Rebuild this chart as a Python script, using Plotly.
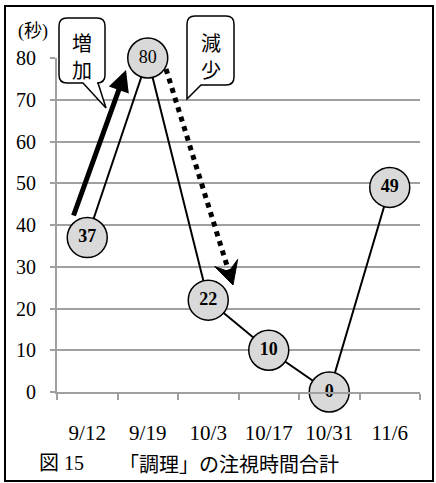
import math
import plotly.graph_objects as go

categories = ["9/12", "9/19", "10/3", "10/17", "10/31", "11/6"]
values = [37, 80, 22, 10, 0, 49]
y_ticks = [0, 10, 20, 30, 40, 50, 60, 70, 80]
caption_num = "図 15"
caption_text = "「調理」の注視時間合計"
unit_label = "(秒)"
callout_up = ["増", "加"]
callout_down = ["減", "少"]

W, H = 436, 483
L, R, T, B = 57, 16, 58, 91
PW = W - L - R
PH = H - T - B
XR = [-0.5, 5.5]
YR = [0, 80]

SERIF = "Liberation Serif"
CJK = "Noto Sans CJK JP"
MIX = "Liberation Serif, Noto Sans CJK JP"
GRID = "#a0a0a0"


def px2x(px):
    return XR[0] + (px - L) / PW * (XR[1] - XR[0])


def py2y(py):
    return YR[0] + (T + PH - py) / PH * (YR[1] - YR[0])


def px2p(px):
    return (px - L) / PW


def py2p(py):
    return (T + PH - py) / PH


def P(px, py):
    return f"{px2p(px):.5f},{py2p(py):.5f}"


fig = go.Figure()
fig.add_trace(go.Scatter(
    x=list(range(len(categories))), y=values,
    mode="lines+markers+text",
    text=[f"<b>{v}</b>" if v != max(values) else str(v) for v in values],
    textposition="middle center",
    textfont=dict(family=SERIF, size=18, color="black"),
    line=dict(color="black", width=2),
    marker=dict(size=40, color="#d9d9d9", line=dict(color="black", width=1.5)),
    cliponaxis=False,
    hoverinfo="skip",
))

shapes = []
shapes.append(dict(type="rect", xref="paper", yref="paper",
                   x0=px2p(5), x1=px2p(433), y0=py2p(6), y1=py2p(481),
                   line=dict(color="black", width=2), fillcolor="rgba(0,0,0,0)"))


def callout_up_path(x0, y0, x1, y1, r, tb1, tip, tb2):
    return (f"M {P(x0 + r, y0)} L {P(x1 - r, y0)} Q {P(x1, y0)} {P(x1, y0 + r)} "
            f"L {P(x1, y1 - r)} Q {P(x1, y1)} {P(x1 - r, y1)} L {P(tb2, y1)} "
            f"L {P(*tip)} L {P(tb1, y1)} L {P(x0 + r, y1)} Q {P(x0, y1)} {P(x0, y1 - r)} "
            f"L {P(x0, y0 + r)} Q {P(x0, y0)} {P(x0 + r, y0)} Z")


shapes.append(dict(type="path", xref="paper", yref="paper",
                   path=callout_up_path(59, 18, 105, 83, 8, 83, (106, 108), 98),
                   line=dict(color="black", width=1.5), fillcolor="white"))

x0, y0, x1, y1, r = 187, 16, 234, 85, 8
path2 = (f"M {P(x0 + r, y0)} L {P(x1 - r, y0)} Q {P(x1, y0)} {P(x1, y0 + r)} "
         f"L {P(x1, y1 - r)} Q {P(x1, y1)} {P(x1 - r, y1)} L {P(201, y1)} "
         f"L {P(187, 99)} L {P(x0, y0 + r)} Q {P(x0, y0)} {P(x0 + r, y0)} Z")
shapes.append(dict(type="path", xref="paper", yref="paper", path=path2,
                   line=dict(color="black", width=1.5), fillcolor="white"))

# dotted arrow with a filled notched head
sx, sy = 166, 69
tx, ty = 233, 285
dx, dy = tx - sx, ty - sy
ln = math.hypot(dx, dy)
ux, uy = dx / ln, dy / ln
nx, ny = -uy, ux
shapes.append(dict(type="line", xref="paper", yref="paper",
                   x0=px2p(sx), y0=py2p(sy), x1=px2p(tx - ux * 12), y1=py2p(ty - uy * 12),
                   line=dict(color="black", width=5, dash="dot")))
back, half, notch = 23, 12, 14
w1 = (tx - ux * back + nx * half, ty - uy * back + ny * half)
w2 = (tx - ux * back - nx * half, ty - uy * back - ny * half)
nt = (tx - ux * notch, ty - uy * notch)
shapes.append(dict(type="path", xref="paper", yref="paper",
                   path=f"M {P(tx, ty)} L {P(*w1)} L {P(*nt)} L {P(*w2)} Z",
                   line=dict(color="black", width=1), fillcolor="black"))

annotations = [
    dict(xref="paper", yref="paper", x=px2p(16), y=py2p(32), xanchor="left", yanchor="middle",
         text=unit_label, showarrow=False, font=dict(family=MIX, size=18, color="black")),
    dict(xref="paper", yref="paper", x=px2p(37), y=py2p(463), xanchor="left", yanchor="middle",
         text=caption_num, showarrow=False, font=dict(family=MIX, size=20, color="black")),
    dict(xref="paper", yref="paper", x=px2p(341), y=py2p(463), xanchor="right", yanchor="middle",
         text=caption_text, showarrow=False, font=dict(family=CJK, size=20, color="black")),
    dict(xref="x", yref="y", axref="x", ayref="y",
         x=px2x(126), y=py2y(70), ax=px2x(73), ay=py2y(217),
         text="", showarrow=True, arrowhead=2, arrowwidth=5, arrowsize=0.85,
         arrowcolor="black", standoff=0, startstandoff=0),
]
for i, ch in enumerate(callout_up):
    annotations.append(dict(xref="paper", yref="paper", x=px2p(82), y=py2p(42 + 28 * i),
                            xanchor="center", yanchor="middle", text=ch, showarrow=False,
                            font=dict(family=CJK, size=20, color="black")))
for i, ch in enumerate(callout_down):
    annotations.append(dict(xref="paper", yref="paper", x=px2p(210.5), y=py2p(42 + 28 * i),
                            xanchor="center", yanchor="middle", text=ch, showarrow=False,
                            font=dict(family=CJK, size=20, color="black")))

fig.update_layout(
    width=W, height=H,
    margin=dict(l=L, r=R, t=T, b=B, pad=0),
    paper_bgcolor="white", plot_bgcolor="white",
    showlegend=False,
    shapes=shapes,
    annotations=annotations,
    font=dict(family=SERIF, color="black"),
    xaxis=dict(range=XR, tickvals=list(range(len(categories))), ticktext=categories,
               showgrid=False, zeroline=False, showline=True, linecolor=GRID, linewidth=2,
               ticks="", tickfont=dict(family=SERIF, size=21, color="black"),
               ticklabelstandoff=21,
               minor=dict(tickvals=[i - 0.5 for i in range(len(categories) + 1)],
                          ticks="outside", ticklen=6, tickcolor=GRID, tickwidth=2,
                          showgrid=False),
               fixedrange=True),
    yaxis=dict(range=YR, tickvals=y_ticks, showgrid=True, gridcolor=GRID, gridwidth=2,
               zeroline=False, showline=True, linecolor=GRID, linewidth=2,
               ticks="outside", ticklen=5, tickcolor=GRID, tickwidth=2,
               tickfont=dict(family=SERIF, size=20, color="black"),
               ticklabelstandoff=10, fixedrange=True),
)

fig.write_html("out.html", config={"displayModeBar": False})
